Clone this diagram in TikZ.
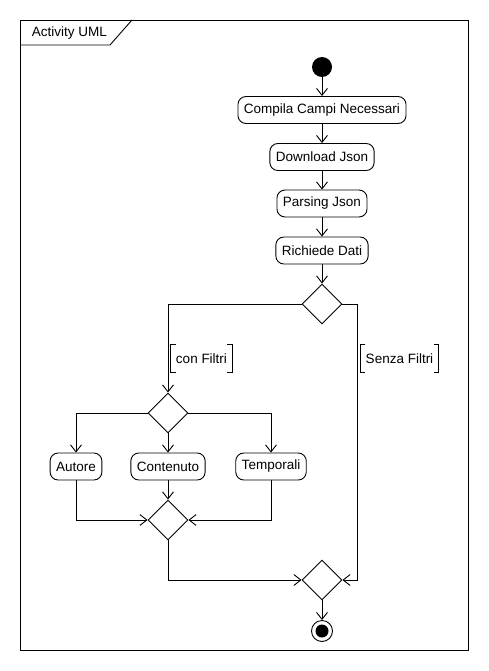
\documentclass[tikz,border=0pt]{standalone}
\usepackage{fontspec}
\setmainfont{Liberation Sans}
\usetikzlibrary{shapes.geometric,arrows.meta}

\begin{document}
\begin{tikzpicture}[x=1pt,y=-1pt,line width=0.9pt,font=\fontsize{13.5}{16}\selectfont]

      \tikzset{activity/.style={draw, rounded corners=8pt, minimum height=27pt, inner xsep=6pt, inner ysep=0pt},
               choice/.style={draw, diamond, aspect=1, minimum size=40pt, inner sep=0pt},
               startnode/.style={circle, fill=black, minimum size=20pt, inner sep=0pt},
               guard/.style={minimum height=27pt, inner xsep=5pt, inner ysep=0pt},
               flow/.style={-{Straight Barb[length=7pt,width=11pt]}}}
      \useasboundingbox (0,0) rectangle (489,671);
% Frame
      	\draw (20,20) rectangle (468,650);
      	\draw (20,45) -- (110,45) -- (132,20);
      	\node[anchor=west] (title) at (28,33) {Activity UML};
% Nodes
	%Hovedflow
      	\node[startnode] (start) at (322,67) {};
      	\node[activity] (compila) at (322,110) {Compila Campi Necessari};
    	\node[activity] (download) at (322,157) {Download Json};
  	    \node[activity] (parsing) at (322,203.5) {Parsing Json};
  	    \node[activity] (richiede) at (322,250.5) {Richiede Dati};
  	    \node[choice] (dec1) at (322,304) {};
  	    \coordinate (rbend) at (357,304);
	%Filtri
		\node[choice] (dec2) at (168,413) {};
      	\node[activity] (autore) at (76,466.5) {Autore};
  	    \node[activity] (contenuto) at (168,466.5) {Contenuto};
  	    \node[activity] (temporali) at (271,466.5) {Temporali};
  	    \node[choice] (merge1) at (168,520) {};
	%Slut
		\node[choice] (merge2) at (322,580) {};
      	\node[draw, circle, minimum size=21pt, inner sep=0pt] (end) at (322,631) {};
      	\node[startnode, minimum size=13pt] (endcore) at (end) {};
	%Guards
		\node[guard] (gcon) at (201.5,358.5) {con Filtri};
		\node[guard] (gsenza) at (399.5,358.5) {Senza Filtri};
		\draw ([xshift=5pt]gcon.north west) -- (gcon.north west) -- (gcon.south west) -- ++(5,0);
		\draw ([xshift=-5pt]gcon.north east) -- (gcon.north east) -- (gcon.south east) -- ++(-5,0);
		\draw ([xshift=5pt]gsenza.north west) -- (gsenza.north west) -- (gsenza.south west) -- ++(5,0);
		\draw ([xshift=-5pt]gsenza.north east) -- (gsenza.north east) -- (gsenza.south east) -- ++(-5,0);
%Edges
	%Hovedflow
		\path[flow] (start) edge node {} (compila);
		\path[flow] (compila) edge node {} (download);
		\path[flow] (download) edge node {} (parsing);
		\path[flow] (parsing) edge node {} (richiede);
		\path[flow] (richiede) edge node {} (dec1.north);
		\draw[flow] (dec1.west) -| (dec2.north);
		\draw[flow] (dec1.east) -- (rbend) |- (merge2.east);
	%Filtri
		\draw[flow] (dec2.west) -| (autore.north);
		\path[flow] (dec2.south) edge node {} (contenuto.north);
		\draw[flow] (dec2.east) -| (temporali.north);
		\draw[flow] (autore.south) |- (merge1.west);
		\path[flow] (contenuto.south) edge node {} (merge1.north);
		\draw[flow] (temporali.south) |- (merge1.east);
	%Slut
		\draw[flow] (merge1.south) |- (merge2.west);
		\path[flow] (merge2.south) edge node {} (end);

	\end{tikzpicture}
\end{document}
